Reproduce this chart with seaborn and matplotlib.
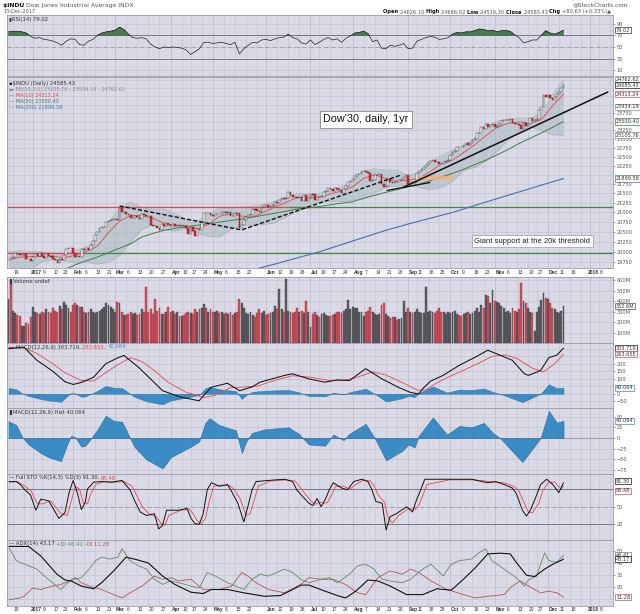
import numpy as np
import pandas as pd
import matplotlib
matplotlib.use("Agg")
import matplotlib.pyplot as plt
import matplotlib.ticker as mticker
import seaborn as sns

# ---------------- data ----------------
holidays = ["2016-12-26", "2017-01-02", "2017-01-16", "2017-02-20", "2017-04-14",
            "2017-05-29", "2017-07-04", "2017-09-04", "2017-11-23", "2017-12-25",
            "2018-01-01", "2018-01-15"]

# daily closes, one list per month (15-Dec-2016 .. 13-Dec-2017)
close_dec16 = [19852, 19843, 19883, 19974, 19942, 19918, 19934, 19946, 19833, 19819, 19763]
close_jan = [19882, 19942, 19899, 19964, 19887, 19855, 19954, 19891, 19886, 19826,
             19804, 19732, 19827, 19799, 19912, 20069, 20100, 20094, 19971, 19864]
close_feb = [19891, 19885, 20071, 20052, 20090, 20054, 20172, 20269, 20413, 20504,
             20611, 20620, 20624, 20744, 20776, 20811, 20822, 20837, 20812]
close_mar = [21116, 21003, 21006, 20954, 20924, 20856, 20858, 20903, 20881, 20837,
             20950, 20934, 20915, 20906, 20669, 20661, 20656, 20596, 20550, 20701,
             20660, 20728, 20663]
close_apr = [20650, 20689, 20648, 20663, 20656, 20658, 20651, 20592, 20453, 20637,
             20523, 20404, 20579, 20548, 20763, 20996, 20975, 20981, 20941]
close_may = [20913, 20950, 20957, 20951, 21007, 21012, 20975, 21012, 20919, 20896,
             20981, 20979, 20606, 20663, 20804, 20894, 20937, 20938, 21082, 21080,
             21029, 21009]
close_jun = [21144, 21206, 21184, 21136, 21173, 21182, 21271, 21235, 21329, 21374,
             21359, 21384, 21528, 21467, 21410, 21397, 21395, 21409, 21310, 21454,
             21287, 21350]
close_jul = [21479, 21478, 21320, 21414, 21409, 21409, 21532, 21553, 21638, 21630,
             21575, 21641, 21612, 21580, 21513, 21613, 21711, 21797, 21830, 21891]
close_aug = [21963, 22016, 22026, 22092, 22118, 22085, 22048, 21844, 21858, 21993,
             21998, 22025, 21750, 21674, 21703, 21899, 21812, 21783, 21814, 21808,
             21865, 21892, 21948]
close_sep = [21988, 21753, 21807, 21784, 21798, 22057, 22118, 22158, 22203, 22268,
             22331, 22370, 22412, 22359, 22349, 22296, 22284, 22341, 22381, 22405]
close_oct = [22557, 22641, 22661, 22775, 22773, 22761, 22831, 22872, 22841, 22871,
             22957, 22997, 23158, 23163, 23329, 23274, 23441, 23329, 23400, 23434,
             23349, 23377]
close_nov = [23436, 23517, 23539, 23549, 23557, 23563, 23462, 23422, 23440, 23410,
             23272, 23458, 23358, 23430, 23590, 23526, 23558, 23580, 23836, 23940,
             24272]
close_dec = [24231, 24290, 24180, 24140, 24211, 24329, 24386, 24504, 24585]
first_open = 19845

# daily volume, millions
vol_dec16 = [420, 580, 310, 290, 270, 260, 160, 165, 195, 180, 250]
vol_jan = [340, 300, 290, 280, 300, 290, 320, 300, 290, 330, 310, 300, 350, 320, 390,
           360, 330, 300, 360, 380]
vol_feb = [360, 340, 340, 300, 290, 300, 320, 300, 290, 300, 310, 320, 340, 380, 360,
           340, 320, 300, 390]
vol_mar = [380, 300, 270, 270, 280, 300, 280, 290, 270, 280, 320, 300, 530, 300, 320,
           280, 420, 310, 330, 280, 280, 300, 340]
vol_apr = [300, 310, 280, 300, 260, 260, 270, 290, 300, 290, 280, 320, 300, 320, 330,
           370, 330, 300, 320]
vol_may = [300, 300, 310, 290, 300, 280, 290, 280, 300, 270, 290, 300, 420, 380, 330,
           290, 280, 300, 270, 250, 290, 320]
vol_jun = [290, 310, 270, 280, 290, 300, 350, 320, 520, 320, 300, 610, 310, 300, 290,
           300, 330, 300, 310, 290, 400, 300]
vol_jul = [150, 280, 300, 270, 250, 280, 290, 270, 260, 260, 270, 280, 300, 300, 290,
           310, 320, 410, 320, 340]
vol_aug = [330, 330, 300, 300, 260, 300, 310, 340, 300, 280, 270, 280, 360, 380, 280,
           260, 240, 250, 250, 220, 230, 240, 400]
vol_sep = [300, 330, 300, 290, 300, 320, 300, 290, 290, 530, 300, 310, 300, 290, 310,
           330, 300, 300, 280, 300]
vol_oct = [290, 300, 310, 280, 270, 260, 280, 290, 300, 280, 290, 310, 330, 300, 360,
           330, 460, 450, 380, 510, 400, 390]
vol_nov = [380, 350, 330, 300, 310, 290, 330, 310, 300, 320, 570, 400, 380, 330, 300,
           290, 110, 300, 340, 410, 480]
vol_dec = [430, 420, 380, 330, 320, 300, 290, 310, 350]

# overlays on the price panel (trading-day number, value)
ma10_day = [0, 5] + list(range(10, 251, 5))
ma10_val = [19790, 19870, 19886, 19887, 19899, 19849, 19917, 20009, 20140, 20479, 20777,
            20914, 20917, 20851, 20725, 20654, 20660, 20582, 20686, 20898, 20964, 20905,
            20878, 21012, 21141, 21263, 21388, 21401, 21391, 21486, 21568, 21676, 21906,
            22004, 21898, 21827, 21856, 21901, 22089, 22303, 22403, 22613, 22834, 23090,
            23325, 23449, 23490, 23441, 23555, 23955, 24313]
ma50_day = list(range(25, 251, 5))
ma50_val = [19560, 19680, 19780, 19870, 19980, 20090, 20200, 20370, 20460, 20540, 20590,
            20630, 20670, 20710, 20750, 20790, 20830, 20880, 20930, 20980, 21030, 21090,
            21120, 21150, 21200, 21240, 21280, 21370, 21450, 21530, 21600, 21680, 21750,
            21840, 21940, 22040, 22150, 22280, 22400, 22550, 22700, 22870, 23020, 23170,
            23330, 23500]
ma200_day = list(range(110, 251, 10))
ma200_val = [19560, 19700, 19850, 20000, 20180, 20360, 20540, 20700, 20850, 21000, 21180,
             21360, 21540, 21720, 21900]
bb_day = list(range(0, 251, 5))
bb_upper = [20000, 20030, 20010, 20000, 19983, 19960, 20040, 20110, 20360, 20745, 21110,
            21280, 21130, 21080, 21090, 20980, 20800, 20770, 20960, 21110, 21110, 21130,
            21170, 21210, 21290, 21390, 21500, 21490, 21500, 21600, 21680, 21840, 22120,
            22170, 22130, 22130, 21980, 22060, 22340, 22540, 22670, 22800, 23040, 23330,
            23510, 23570, 23610, 23590, 23750, 24280, 24763]
bb_lower = [19300, 19500, 19550, 19760, 19803, 19780, 19720, 19750, 19700, 19745, 19900,
            20250, 20560, 20680, 20550, 20520, 20580, 20470, 20380, 20370, 20550, 20670,
            20670, 20690, 20730, 20890, 21020, 21170, 21280, 21280, 21280, 21320, 21360,
            21510, 21670, 21690, 21740, 21660, 21600, 21660, 21830, 22120, 22200, 22370,
            22650, 22970, 23210, 23350, 23250, 23120, 23105]

# hand-drawn lines on the price panel
hline_level = [21150, 19975]
hline_red_end = [140, 34]      # red (resistance) up to this day, green afterwards
hline_green_start = [127, 34]
dash_day = [50, 105, 177]
dash_val = [21169, 20550, 22000]
short_day = [170.5, 189.8]
short_val = [21580, 21790]
trend_day = [177.7, 270]
trend_val = [21660, 24376]

# RSI(14), every second trading day
rsi_val = [76, 77, 77, 76, 74, 68, 65, 66, 63, 62, 60, 57, 53, 60, 64, 63, 54, 53, 60, 63,
           70, 74, 76, 77, 79, 84, 80, 72, 66, 65, 66, 64, 55, 50, 47, 50, 49, 50, 49, 48,
           45, 37, 42, 47, 58, 58, 56, 57, 58, 56, 54, 58, 38, 47, 53, 58, 57, 62, 63, 61,
           64, 66, 67, 72, 66, 64, 57, 55, 62, 54, 58, 63, 66, 62, 64, 58, 65, 69, 74, 75,
           77, 73, 59, 62, 48, 47, 53, 51, 53, 56, 47, 48, 60, 63, 66, 68, 67, 63, 64, 66,
           72, 75, 74, 76, 76, 78, 81, 80, 78, 79, 76, 78, 78, 77, 71, 66, 57, 59, 62, 62,
           70, 78, 74, 72, 75, 79]

# MACD(12,26,9)
macd_day = [0, 7, 12.6, 19.9, 25.4, 29.1, 32.8, 38.3, 43.8, 49.3, 52, 58.4, 63.9, 69.4, 77,
            85.8, 91.3, 98.6, 104.1, 109.6, 113.3, 124.3, 127.9, 135.2, 142.5, 148, 153.6,
            160.9, 168.2, 175.6, 181, 184.7, 187, 190.2, 195.7, 203, 210.4, 215.9, 221.4,
            226.9, 232.4, 234.2, 239.7, 243.4, 247, 250]
macd_val = [300, 310, 225, 150, 80, 62, 75, 110, 200, 240, 255, 178, 100, 20, -20, -47, 43,
            70, 20, 45, 77, 122, 133, 99, 77, 92, 88, 167, 99, 43, 9, -1, 40, 85, 122, 189,
            245, 290, 257, 223, 133, 122, 155, 241, 257, 303.7]
signal_day = [0, 7, 12.6, 19.9, 25.4, 32.8, 38.3, 43.8, 49.3, 55, 60, 66, 72, 80, 88, 93,
              100, 106, 112, 120, 128, 136, 144, 150, 156, 164, 170, 178, 184, 188, 192,
              198, 204, 212, 218, 224, 229, 236, 241, 246, 250]
signal_val = [310, 305, 270, 200, 140, 88, 85, 140, 195, 240, 215, 150, 75, 10, -25, -10,
              40, 45, 50, 90, 120, 110, 90, 88, 105, 145, 125, 70, 25, 25, 65, 110, 150,
              205, 250, 258, 235, 170, 145, 200, 263.7]
hist_day = [0, 3.5, 6.2, 9, 14.5, 18.1, 23.6, 26.4, 28.2, 30, 32.8, 34.6, 37.3, 40.1, 43.8,
            47.4, 51.1, 52.9, 54.7, 56.6, 62.1, 69.4, 73.1, 82.2, 85.9, 88.6, 90.5, 95,
            102.4, 105.1, 106.9, 109.7, 115.2, 126.1, 130.7, 135.3, 142.6, 146.3, 150.9,
            153.6, 160.9, 163.7, 165.5, 170.1, 177.4, 180.2, 182.9, 184.8, 191.2, 194.8,
            197.6, 203.1, 208.6, 214.1, 218.6, 221.4, 231.5, 239.7, 243.4, 247, 250]
hist_val = [39, 30, 2, -15, -35, -45, -54, -15, 5, 2, -20, -18, 0, 20, 52, 40, 38, 20, 0,
            -20, -50, -71, -45, -20, -8, 35, 46, 30, 18, -35, -10, 12, 20, 25, 10, -15, -18,
            8, -5, 10, 33, 10, -5, -52, -30, -15, -22, 5, 48, 25, 8, 28, 25, 35, 10, 0, -56,
            0, 63, 36, 40.064]

# Full STO %K(14,3) %D(3)
stok_day = [0.2, 3.5, 5.3, 7.1, 9.9, 12.3, 14.5, 18.1, 22.7, 25.4, 27.3, 29.1, 30.9, 32.8,
            34.6, 35.5, 38.3, 41.9, 46.5, 51.1, 54.7, 56.6, 59.3, 62.1, 65.7, 67.6, 69.4,
            71.2, 76.7, 80.4, 82.2, 84, 85.9, 87.7, 89.5, 91.4, 95, 98.7, 100.5, 103.3, 106,
            107.8, 109.7, 111.5, 117, 124.3, 128, 129.8, 132.6, 135.3, 137.1, 139, 140.8,
            142.6, 144.5, 146.3, 150, 152.7, 155.5, 159.1, 161.9, 163.7, 165.5, 168.3,
            170.1, 171.9, 174.7, 179.3, 182, 183.8, 185.7, 187.5, 197.6, 208.6, 215.9,
            219.5, 223.2, 226.9, 228.7, 231.5, 233.3, 235.1, 237.9, 239.7, 242.4, 245.2,
            247.9, 250]
stok_val = [93, 93, 88, 80, 70, 44, 63, 60, 30, 40, 75, 95, 75, 45, 58, 80, 92, 93, 92, 95,
            79, 62, 41, 35, 38, 12, 18, 44, 44, 47, 30, 21, 20, 38, 79, 91, 85, 88, 76, 56,
            24, 50, 79, 93, 95, 97, 93, 79, 67, 56, 52, 64, 50, 62, 79, 91, 82, 79, 93, 97,
            93, 79, 59, 56, 10, 33, 38, 50, 41, 62, 79, 97, 97, 97, 91, 93, 88, 82, 73, 44,
            34, 44, 70, 88, 97, 88, 74, 91.3]
stod_day = [0.2, 4, 7, 10, 13, 15.5, 19, 23.7, 26.4, 28.3, 30.1, 32, 33.8, 35.6, 37, 39.3,
            43, 47.5, 52.1, 55.7, 57.6, 60.3, 63.1, 66.7, 68.6, 70.4, 72.2, 77.7, 81.4,
            83.2, 85, 86.9, 88.7, 90.5, 92.4, 96, 99.7, 101.5, 104.3, 107, 108.8, 110.7,
            112.5, 118, 125.3, 129, 130.8, 133.6, 136.3, 138.1, 140, 141.8, 143.6, 145.5,
            147.3, 151, 153.7, 156.5, 160.1, 162.9, 164.7, 166.5, 169.3, 171.1, 172.9,
            175.7, 180.3, 183, 184.8, 186.7, 188.5, 198.6, 209.6, 216.9, 220.5, 224.2,
            227.9, 229.7, 232.5, 234.3, 236.1, 238.9, 240.7, 243.4, 246.2, 248.9, 250]
stod_val = [92, 93, 86, 78, 55, 55, 60, 38, 35, 60, 85, 80, 55, 55, 72, 88, 93, 92, 93, 85,
            70, 50, 38, 32, 22, 18, 35, 44, 46, 38, 26, 21, 30, 60, 85, 87, 86, 80, 64, 35,
            38, 62, 85, 94, 96, 94, 86, 72, 60, 54, 58, 56, 57, 70, 85, 85, 80, 88, 96, 94,
            86, 70, 58, 30, 22, 35, 47, 45, 52, 70, 88, 96, 96, 93, 92, 90, 84, 78, 55, 40,
            40, 56, 78, 92, 92, 80, 85.48]

# ADX(14) with +DI / -DI
adx_day = [0.2, 9, 14.5, 21.8, 25.4, 28.2, 32.8, 38.3, 41.9, 47.4, 52.9, 56.6, 63, 69.4,
           74.9, 82.2, 87.7, 91.4, 98.7, 106, 115.2, 122.5, 128, 131.7, 135.3, 142.6, 148.1,
           151.8, 156.4, 161.9, 166.4, 171.9, 179.3, 186.6, 193, 199.4, 204.9, 210.4, 215.9,
           221.4, 226, 228.7, 233.3, 237, 241.5, 245.2, 250]
adx_val = [54, 54, 46, 30.6, 25.7, 24.9, 20.6, 18.3, 23.4, 33.4, 44.9, 43.4, 40, 29, 22,
           15.4, 14.3, 17.7, 17.7, 14.9, 12, 12.6, 17.7, 21.4, 21.4, 16.3, 12.6, 10.6, 16.3,
           25.7, 24.9, 20.6, 13.4, 13.4, 18.3, 17.1, 26.3, 36.3, 47.7, 48.3, 47.7, 40.6,
           29.7, 28.6, 34.9, 39, 43.17]
pdi_day = [0.2, 3.5, 7.1, 12.6, 18.1, 23.6, 26.4, 29.1, 32.8, 36.4, 39.2, 41.9, 45.6, 49.3,
           51.1, 54.7, 58.4, 62.1, 65.7, 69.4, 73.1, 76.7, 82.2, 85.9, 89.5, 93.2, 98.7,
           102.4, 106, 109.7, 113.3, 117, 124.3, 128, 131.7, 135.3, 140.8, 144.5, 148.1,
           153.6, 157.3, 160.9, 164.6, 168.3, 171.9, 177.4, 181.1, 186.6, 190.3, 195.8,
           199.4, 203.1, 208.6, 212.2, 215, 217.7, 223.2, 228.7, 232.4, 234.2, 237.9, 239.7,
           241.5, 243.4, 247, 250]
pdi_val = [53, 42, 39, 35, 26, 17.7, 23, 26, 27.7, 35, 42, 45, 43.4, 45, 52, 42, 37.7, 34.9,
           26.3, 22, 24.9, 23.4, 20.6, 19.1, 32, 29, 23.4, 20.6, 17.7, 26.3, 30.6, 29, 34.9,
           32, 26.3, 23.4, 26.3, 27.7, 23.4, 30.6, 37.7, 39, 34.9, 26.3, 24.9, 23.4, 26.3,
           34.9, 39, 29, 39, 42, 43.4, 49, 52, 42, 34.9, 27.7, 20.6, 25.7, 29, 39, 48.6, 42,
           40.6, 46.41]
mdi_day = [0.2, 5.3, 7.1, 10.8, 14.5, 19.9, 23.6, 27.3, 30, 32.8, 36.4, 41.9, 47.4, 51.1,
           54.7, 60.2, 63.9, 65.7, 69.4, 73.1, 76.7, 82.2, 87.7, 95, 100.5, 105.1, 107.8,
           111.5, 117, 124.3, 131.7, 135.3, 140.8, 146.3, 151.8, 157.3, 160.9, 166.4, 171.9,
           177.4, 181.1, 184.8, 190.3, 197.6, 204.9, 210.4, 215.9, 223.2, 226.9, 230.5,
           234.2, 239.7, 243.4, 247, 250]
mdi_val = [9, 10.6, 12, 19, 17.7, 20.6, 22, 24.9, 27.7, 23.4, 20.6, 17.7, 13.4, 10.6, 14.9,
           20.6, 26.3, 29, 26.3, 27.7, 24.9, 26.3, 17.7, 17.7, 20.6, 32, 29, 23.4, 17.7, 14.9,
           22, 27.7, 26.3, 26.3, 22, 14.9, 13.4, 27.7, 33.4, 30.6, 34.9, 32, 24.9, 17.7, 13.4,
           10.6, 12, 13.4, 20.6, 24.9, 20.6, 14.9, 16.3, 14.9, 11.28]

# weekly axis labels
tick_dates = ["2016-12-19", "2017-01-03", "2017-01-09", "2017-01-17", "2017-01-23",
              "2017-01-30", "2017-02-06", "2017-02-13", "2017-02-21", "2017-02-27",
              "2017-03-06", "2017-03-13", "2017-03-20", "2017-03-27", "2017-04-03",
              "2017-04-10", "2017-04-17", "2017-04-24", "2017-05-01", "2017-05-08",
              "2017-05-15", "2017-05-22", "2017-06-05", "2017-06-12", "2017-06-19",
              "2017-06-26", "2017-07-03", "2017-07-10", "2017-07-17", "2017-07-24",
              "2017-07-31", "2017-08-07", "2017-08-14", "2017-08-21", "2017-08-28",
              "2017-09-05", "2017-09-11", "2017-09-18", "2017-09-25", "2017-10-02",
              "2017-10-09", "2017-10-16", "2017-10-23", "2017-10-30", "2017-11-06",
              "2017-11-13", "2017-11-20", "2017-11-27", "2017-12-04", "2017-12-11",
              "2017-12-18", "2018-01-02", "2018-01-08"]
tick_labels = ["19", "2017", "9", "17", "23", "Feb", "6", "13", "21", "Mar", "6", "13",
               "20", "27", "Apr", "10", "17", "24", "May", "8", "15", "22", "Jun", "12",
               "19", "26", "Jul", "10", "17", "24", "Aug", "7", "14", "21", "28", "Sep",
               "11", "18", "25", "Oct", "9", "16", "23", "Nov", "6", "13", "20", "27",
               "Dec", "11", "18", "2018", "8"]

# ---------------- build ----------------
sns.set_theme(style="white")
plt.rcParams["font.family"] = ["DejaVu Sans"]

close = np.array(close_dec16 + close_jan + close_feb + close_mar + close_apr + close_may +
                 close_jun + close_jul + close_aug + close_sep + close_oct + close_nov +
                 close_dec, dtype=float)
volume = np.array(vol_dec16 + vol_jan + vol_feb + vol_mar + vol_apr + vol_may + vol_jun +
                  vol_jul + vol_aug + vol_sep + vol_oct + vol_nov + vol_dec, dtype=float)
opens = np.concatenate([[first_open], close[:-1]])
days = np.arange(len(close))

cal = pd.bdate_range("2016-12-15", "2018-01-19")
cal = cal[~cal.isin(pd.to_datetime(holidays))]
pos = {d: i for i, d in enumerate(cal)}
tick_pos = [pos[pd.Timestamp(d)] for d in tick_dates]
week_first = pd.Series(np.arange(len(cal)), index=cal).groupby(cal.to_period("W")).first()
week_pos = week_first.values

W, H = 640, 614
XL, XR = 7, 613
XMIN, XMAX = -0.7, 272.3
BG = "#dadae6"
GRID = "#c3c3d1"

fig = plt.figure(figsize=(6.4, 6.14), dpi=100)
renderer = fig.canvas.get_renderer()


def is_major(lab):
    return not lab.isdigit() or len(lab) == 4


def make_ax(top, bot):
    ax = fig.add_axes([XL / W, 1 - bot / H, (XR - XL) / W, (bot - top) / H])
    ax.set_facecolor(BG)
    ax.set_xlim(XMIN, XMAX)
    ax.set_xticks([])
    for s in ax.spines.values():
        s.set_color("#9a9aa8")
        s.set_linewidth(0.6)
    month_set = set(p for p, l in zip(tick_pos, tick_labels) if is_major(l))
    for g in week_pos:
        ax.axvline(g, color="#b4b4c4" if g in month_set else GRID, lw=0.45, zorder=0.5)
    ax.yaxis.tick_right()
    ax.tick_params(axis="y", labelsize=3.6, length=1.5, width=0.4, pad=1,
                   colors="#555555", right=True, left=False)
    return ax


def hgrid(ax, levels):
    for v in levels:
        ax.axhline(v, color=GRID, lw=0.45, zorder=0.6)


def box_label(ax, val, text, ec, dy=0):
    ax.annotate(text, xy=(1, val), xycoords=("axes fraction", "data"), xytext=(2.2, dy),
                textcoords="offset points", fontsize=3.6, va="center", ha="left",
                color="#333333", annotation_clip=False,
                bbox=dict(boxstyle="square,pad=0.12", fc="white", ec=ec, lw=0.5))


def seq_text(x_px, y_px, pieces, size, align="left", family=None):
    arts = []
    for txt, col, wt in pieces:
        kw = dict(fontsize=size, color=col, fontweight=wt, va="center", ha="left")
        if family:
            kw["family"] = family
        arts.append(fig.text(0, 1 - y_px / H, txt, **kw))
    widths = [a.get_window_extent(renderer).width for a in arts]
    x = x_px if align == "left" else x_px - sum(widths)
    for a, w in zip(arts, widths):
        a.set_x(x / W)
        x += w


def date_row(y_px):
    for p, lab in zip(tick_pos, tick_labels):
        xp = XL + (p - XMIN) / (XMAX - XMIN) * (XR - XL)
        shift = -2.2 if len(lab) == 4 else 0.8
        fig.text((xp + shift) / W, 1 - y_px / H, lab, fontsize=3.5, ha="left", va="center",
                 family="Liberation Sans", color="#333333",
                 fontweight="bold" if is_major(lab) else "normal")


def line(ax, x, y, color, lw, z=3):
    sns.lineplot(x=np.asarray(x, float), y=np.asarray(y, float), ax=ax, color=color, lw=lw,
                 estimator=None, sort=False, legend=False, zorder=z)


# ---- RSI panel ----
ax = make_ax(15, 76)
ax.set_ylim(0, 105)
rsi_day = np.arange(0, 251, 2)
rv = np.array(rsi_val, float)
ax.fill_between(rsi_day, 70, rv, where=rv > 70, interpolate=True, color="#4a7a50",
                ec="#2f5a35", lw=0.3, zorder=2)
ax.axhline(70, color="#7a7a86", lw=0.7, zorder=1)
ax.axhline(30, color="#7a7a86", lw=0.7, zorder=1)
ax.axhline(50, color="#8a8a96", lw=0.5, ls="-.", zorder=1)
hgrid(ax, [10, 90])
line(ax, rsi_day, rv, "#222222", 0.5)
ax.set_yticks([10, 30, 50, 70, 90])
box_label(ax, 79.02, "79.02", "#333333")
seq_text(9, 19, [("\u25aeRSI(14) 79.02", "#333333", "normal")], 3.8)

# ---- price panel ----
ax = make_ax(77, 268)
ax.set_yscale("log")
ax.set_ylim(19604, 24832)
hgrid(ax, np.arange(19750, 24751, 250))
ax.fill_between(bb_day, bb_lower, bb_upper, color="#a6b6bb", alpha=0.5, lw=0, zorder=1)
line(ax, bb_day, bb_upper, "#a9b6ba", 0.5, 1.5)
line(ax, bb_day, bb_lower, "#a9b6ba", 0.5, 1.5)
for lvl, red_end, green_start in zip(hline_level, hline_red_end, hline_green_start):
    ax.plot([XMIN, red_end], [lvl, lvl], color="#e0474c", lw=0.9, zorder=2)
    ax.plot([green_start, XMAX], [lvl, lvl], color="#3d8b45", lw=0.9, zorder=2)
line(ax, ma200_day, ma200_val, "#4a6fb0", 0.8, 2)
line(ax, ma50_day, ma50_val, "#3f7f46", 0.7, 2)
line(ax, ma10_day, ma10_val, "#e0474c", 0.6, 2)
ax.fill_between([183.9, 200.2], 21850, 21960, color="#f4b27a", alpha=0.8, lw=0, zorder=2)
up = close >= opens
body = close - opens
body = np.where(np.abs(body) < 10, np.where(up, 10, -10), body)
ax.bar(days[up], body[up], bottom=opens[up], width=0.8, color="white", edgecolor="#222222",
       linewidth=0.3, zorder=4)
ax.bar(days[~up], body[~up], bottom=opens[~up], width=0.8, color="#e02a35", edgecolor="#6a1015",
       linewidth=0.3, zorder=4)
line(ax, dash_day, dash_val, "#111111", 1.0, 5)
ax.lines[-1].set_linestyle((0, (3, 1.5)))
line(ax, short_day, short_val, "#111111", 0.9, 5)
line(ax, trend_day, trend_val, "#111111", 1.1, 5)
ax.yaxis.set_major_locator(mticker.FixedLocator(
    [19750, 20000, 20250, 20500, 20750, 21000, 21250, 21500, 21750, 22250, 22500, 22750,
     23000, 23250, 23750]))
ax.yaxis.set_major_formatter(mticker.FormatStrFormatter("%d"))
ax.yaxis.set_minor_locator(mticker.NullLocator())
for v, t, ec in [(24762.62, "24762.62", "#8a8a8a"), (24585.43, "24585.43", "#111111"),
                 (24313.24, "24313.24", "#e0474c"), (23934.19, "23934.19", "#8a8a8a"),
                 (23500.40, "23500.40", "#3f7f46"), (23105.76, "23105.76", "#8a8a8a"),
                 (21899.58, "21899.58", "#4a6fb0")]:
    box_label(ax, v, t, ec)
ax.text(161, 23560, "Dow'30, daily, 1yr", fontsize=7.8, family="Liberation Sans", ha="center",
        va="center", color="#111111", zorder=6,
        bbox=dict(boxstyle="square,pad=0.3", fc="white", ec="#888888", lw=0.6))
ax.text(236, 20265, "Giant support at the 20k threshold", fontsize=5.5, family="Liberation Sans",
        ha="center", va="center", color="#222222", zorder=6,
        bbox=dict(boxstyle="square,pad=0.35", fc="white", ec="#999999", lw=0.5))
seq_text(9, 83, [("\u25aa$INDU (Daily) 24585.43", "#333333", "normal")], 3.8)
seq_text(9, 89, [("\u25ac BB(20,2.0) 23105.76 - 23934.19 - 24762.62", "#8a8a8a", "normal")], 3.6)
seq_text(9, 95, [("\u2014 MA(10) 24313.24", "#e0474c", "normal")], 3.6)
seq_text(9, 101, [("\u2014 MA(50) 23500.40", "#3f7f46", "normal")], 3.6)
seq_text(9, 107, [("\u2014 MA(200) 21899.58", "#4a6fb0", "normal")], 3.6)

# ---- volume panel ----
ax = make_ax(277, 343)
ax.set_ylim(0, 630)
hgrid(ax, [100, 200, 300, 400, 500, 600])
vol_up = close >= opens
ax.bar(days[vol_up], volume[vol_up], width=0.85, color="#5e5e62", edgecolor="#3a3a3e",
       linewidth=0.25, zorder=3)
ax.bar(days[~vol_up], volume[~vol_up], width=0.85, color="#d0525f", edgecolor="#8a2a35",
       linewidth=0.25, zorder=3)
ax.set_yticks([100, 200, 300, 400, 500, 600])
ax.set_yticklabels(["100M", "200M", "300M", "400M", "500M", "600M"])
box_label(ax, 352, "352.6M", "#555555")
seq_text(9, 281, [("\u258cVolume undef", "#333333", "normal")], 3.8)

# ---- MACD panel ----
ax = make_ax(343, 408)
ax.set_ylim(-95, 338)
hgrid(ax, [-50, 0, 50, 100, 150, 200, 250, 300])
ax.fill_between(hist_day, 0, hist_val, color="#3b8cc4", ec="#2a6a98", lw=0.3, zorder=2)
line(ax, signal_day, signal_val, "#e8454f", 0.6)
line(ax, macd_day, macd_val, "#111111", 0.75)
ax.set_yticks([-50, 0, 100, 150, 200])
box_label(ax, 303.719, "303.719", "#111111")
box_label(ax, 263.655, "263.655", "#e8454f")
box_label(ax, 40.064, "40.064", "#3b8cc4")
seq_text(9, 347, [("\u2014 MACD(12,26,9) 303.719, ", "#333333", "normal"),
                  ("263.655, ", "#e8454f", "normal"), ("40.064", "#3b8cc4", "normal")], 3.8)

# ---- MACD histogram panel ----
ax = make_ax(408, 474)
ax.set_ylim(-84, 70)
hgrid(ax, [-75, -50, -25, 0, 25, 50])
ax.fill_between(hist_day, 0, hist_val, color="#3b8cc4", ec="#2a6a98", lw=0.4, zorder=2)
ax.axhline(0, color="#8a8a96", lw=0.5, zorder=1.5)
ax.set_yticks([-75, -50, -25, 0, 25, 50])
box_label(ax, 40.064, "40.064", "#3b8cc4")
seq_text(9, 412, [("\u258cMACD(12,26,9) Hist 40.064", "#333333", "normal")], 3.8)

# ---- Full STO panel ----
ax = make_ax(474, 540)
ax.set_ylim(-7, 106)
ax.axhline(80, color="#7a7a86", lw=0.7, zorder=1)
ax.axhline(20, color="#7a7a86", lw=0.7, zorder=1)
ax.axhline(50, color="#8a8a96", lw=0.5, ls="-.", zorder=1)
line(ax, stod_day, stod_val, "#e8454f", 0.6)
line(ax, stok_day, stok_val, "#111111", 0.7)
ax.set_yticks([20, 50])
box_label(ax, 85.48, "85.48", "#e8454f", dy=-3.5)
box_label(ax, 91.30, "91.30", "#111111", dy=1.0)
seq_text(9, 478, [("\u2014 Full STO %K(14,3) %D(3) 91.30, ", "#333333", "normal"),
                  ("85.48", "#e8454f", "normal")], 3.8)

# ---- ADX panel ----
ax = make_ax(540, 606)
ax.set_ylim(3.8, 59.4)
hgrid(ax, [10, 20, 30, 40, 50])
line(ax, mdi_day, mdi_val, "#b0555a", 0.6)
line(ax, pdi_day, pdi_val, "#5f8a66", 0.6)
line(ax, adx_day, adx_val, "#111111", 0.8)
ax.set_yticks([20, 30, 40, 50])
box_label(ax, 46.41, "46.41", "#5f8a66")
box_label(ax, 43.17, "43.17", "#111111")
box_label(ax, 11.28, "11.28", "#b0555a")
seq_text(9, 544, [("\u2014 ADX(14) 43.17 ", "#333333", "normal"), ("+DI 46.41 ", "#5f8a66", "normal"),
                  ("-DI 11.28", "#b0555a", "normal")], 3.8)

# ---- date rows and header ----
date_row(272.5)
date_row(609.5)
seq_text(3, 5, [("$INDU ", "#111111", "bold"),
                ("Dow Jones Industrial Average INDX", "#555555", "normal")], 4.4)
fig.text(3 / W, 1 - 11.5 / H, "13-Dec-2017", fontsize=3.6, color="#555555", va="center")
fig.text(628 / W, 1 - 5 / H, "@StockCharts.com", fontsize=4.2, color="#555555", va="center",
         ha="right")
seq_text(611, 12, [("Open ", "#111111", "bold"), ("24626.10 ", "#555555", "normal"),
                   ("High ", "#111111", "bold"), ("24686.02 ", "#555555", "normal"),
                   ("Low ", "#111111", "bold"), ("24518.30 ", "#555555", "normal"),
                   ("Close ", "#111111", "bold"), ("24585.43 ", "#555555", "normal"),
                   ("Chg ", "#111111", "bold"), ("+80.63 (+0.33%)\u25b2", "#555555", "normal")],
         3.7, align="right")

fig.savefig("out.png", dpi=100, facecolor="white")
